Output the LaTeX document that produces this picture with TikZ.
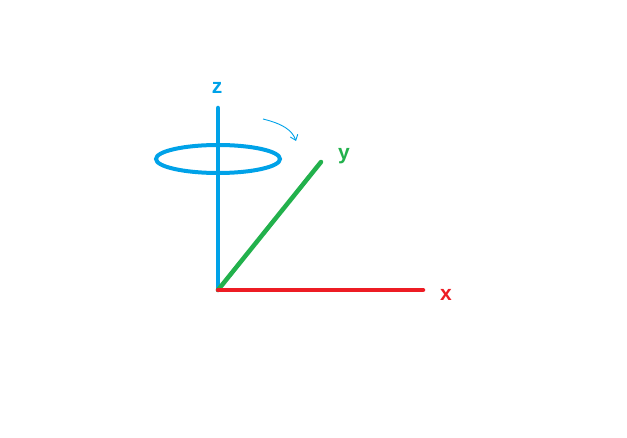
\documentclass[tikz,border=0pt]{standalone}
\usepackage{fontspec}
\setmainfont{Liberation Sans}
\usetikzlibrary{arrows.meta}
\definecolor{zblue}{RGB}{0,162,232}
\definecolor{ygreen}{RGB}{34,177,76}
\definecolor{xred}{RGB}{237,28,36}
\begin{document}
\begin{tikzpicture}[x=1pt,y=-1pt,
    axis/.style={line width=4.5pt,line cap=round},
    lbl/.style={font=\fontsize{21}{21}\selectfont\bfseries,inner sep=0pt}]
    \useasboundingbox (0,0) rectangle (627,438);
	  \coordinate (O) at (218,290);
    \coordinate (zend) at (218,108);
    \coordinate (yend) at (321,162);
    \coordinate (xend) at (423,290);
		\draw[axis,zblue] (O) -- (zend);
		\draw[axis,ygreen] (O) -- (yend);
		\draw[axis,xred] (O) -- (xend);
		\draw[zblue,line width=4pt] (218,159) ellipse (62 and 14);
		\draw[zblue,line width=0.9pt,-{Straight Barb[length=5pt,width=8pt]}] (263,119) .. controls (283,124) and (292,130) .. (296,141);
		\node[lbl,zblue] (zlbl) at (217,88) {z};
		\node[lbl,ygreen] (ylbl) at (344,156) {y};
		\node[lbl,xred] (xlbl) at (446,295) {x};
\end{tikzpicture}
\end{document}
